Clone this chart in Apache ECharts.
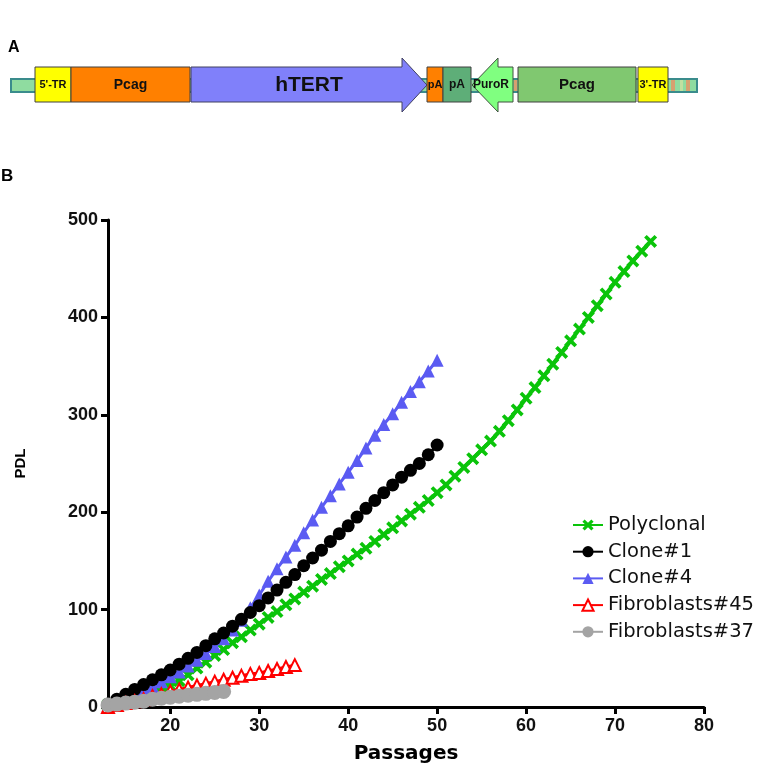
<!DOCTYPE html>
<html>
<head>
<meta charset="utf-8">
<script src="https://cdn.jsdelivr.net/npm/echarts@6/dist/echarts.min.js"></script>
<style>html,body{margin:0;padding:0;background:#fff}#c{width:759px;height:764px}</style>
</head>
<body>
<div id="c"></div>
<script>
// ---- Data ----
const seriesNames = ['Polyclonal', 'Clone#1', 'Clone#4', 'Fibroblasts#45', 'Fibroblasts#37'];
const polyPassages = [13,14,15,16,17,18,19,20,21,22,23,24,25,26,27,28,29,30,31,32,33,34,35,36,37,38,39,40,41,42,43,44,45,46,47,48,49,50,51,52,53,54,55,56,57,58,59,60,61,62,63,64,65,66,67,68,69,70,71,72,73,74];
const polyPDL = [2,4,6,9,12,15,19,22,27,33,40,46,53,59,66,72,79,85,92,98,105,111,118,124,131,137,144,150,157,163,170,177,184,191,198,205,212,220,228,237,246,255,264,273,283,294,305,317,328,340,352,364,376,388,400,412,424,436,447,458,468,478];
const clonePassages = [13,14,15,16,17,18,19,20,21,22,23,24,25,26,27,28,29,30,31,32,33,34,35,36,37,38,39,40,41,42,43,44,45,46,47,48,49,50];
const clone1PDL = [3,8,13,18,23,28,33,38,44,50,56,63,70,76,83,90,97,104,112,120,128,136,145,153,161,170,178,186,195,204,212,220,228,236,243,250,259,269];
const clone4PDL = [2,5,9,13,17,21,26,31,36,42,48,55,62,70,79,89,102,115,129,142,154,166,179,192,205,217,229,241,253,266,279,290,301,313,324,334,345,356];
const fib45Passages = [13,14,15,16,17,18,19,20,21,22,23,24,25,26,27,28,29,30,31,32,33,34];
const fib45PDL = [0,2,4,6,8,11,13,16,18,20,22,24,26,28,30,32,34,35,37,39,41,43];
const fib37Passages = [13,14,15,16,17,18,19,20,21,22,23,24,25,26];
const fib37PDL = [2,3,4,5,6,8,9,10,11,12,13,14,15,16];
const xTicks = [20,30,40,50,60,70,80];
const yTicks = [0,100,200,300,400,500];

// Construct diagram (panel A) parts
const diagramBoxes = [
  {label:"5'-TR", x0:35, x1:71, fill:'#ffff00', fs:11},
  {label:'Pcag', x0:71, x1:190, fill:'#ff8000', fs:14},
  {label:'pA', x0:427, x1:443, fill:'#ff8000', fs:11},
  {label:'pA', x0:443, x1:471, fill:'#5eae78', fs:12},
  {label:'Pcag', x0:518, x1:636, fill:'#80c870', fs:15},
  {label:"3'-TR", x0:638, x1:668, fill:'#ffff00', fs:11}
];

function zip(xs, ys){ return xs.map((x,i)=>[x, ys[i]]); }

const chart = echarts.init(document.getElementById('c'), null, {renderer:'canvas'});

const xMark = 'path://M2,0 L5,3 L8,0 L10,2 L7,5 L10,8 L8,10 L5,7 L2,10 L0,8 L3,5 L0,2 Z';

const boxTop = 67, boxBot = 102;
const graphics = [];
graphics.push({type:'text', left:8, top:40, style:{text:'A', font:'bold 16px "Liberation Sans"', fill:'#000'}});
graphics.push({type:'text', left:1, top:168, style:{text:'B', font:'bold 17px "Liberation Sans"', fill:'#000'}});
// backbone band
graphics.push({type:'rect', shape:{x:11, y:79, width:686, height:13}, style:{fill:'#8fdca0', stroke:'#3a8c8c', lineWidth:2}});
graphics.push({type:'rect', shape:{x:671, y:80, width:4, height:11}, style:{fill:'#d6a070'}});
graphics.push({type:'rect', shape:{x:680, y:80, width:3, height:11}, style:{fill:'#c0e0a0'}});
graphics.push({type:'rect', shape:{x:686, y:80, width:4, height:11}, style:{fill:'#d6a070'}});
graphics.push({type:'rect', shape:{x:514, y:80, width:3, height:11}, style:{fill:'#d6a070'}});
// hTERT arrow
graphics.push({type:'polygon', shape:{points:[[191,boxTop],[402,boxTop],[402,58],[427,85],[402,112],[402,boxBot],[191,boxBot]]}, style:{fill:'#8080fa', stroke:'#404060', lineWidth:1}});
graphics.push({type:'text', x:309, y:85, style:{text:'hTERT', font:'bold 21px "Liberation Sans"', fill:'#111', align:'center', verticalAlign:'middle'}});
// PuroR arrow (leftward)
graphics.push({type:'polygon', shape:{points:[[513,boxTop],[498,boxTop],[498,58],[472,85],[498,112],[498,boxBot],[513,boxBot]]}, style:{fill:'#80ff80', stroke:'#405040', lineWidth:1}});
diagramBoxes.forEach(b=>{
  graphics.push({type:'rect', shape:{x:b.x0, y:boxTop, width:b.x1-b.x0, height:boxBot-boxTop}, style:{fill:b.fill, stroke:'#404040', lineWidth:1}});
  graphics.push({type:'text', x:(b.x0+b.x1)/2, y:85, style:{text:b.label, font:'bold '+b.fs+'px "Liberation Sans"', fill:'#111', align:'center', verticalAlign:'middle'}});
});
graphics.push({type:'text', x:491, y:85, style:{text:'PuroR', font:'bold 12px "Liberation Sans"', fill:'#111', align:'center', verticalAlign:'middle'}});

const option = {
  backgroundColor:'#fff',
  animation:false,
  graphic: graphics,
  grid:{left:108, right:55, top:220, bottom:57, outerBoundsMode:'none', containLabel:false},
  legend:{
    data: seriesNames,
    orient:'vertical', left:567, top:510,
    itemWidth:30, itemHeight:14, itemGap:6.7,
    textStyle:{fontFamily:'DejaVu Sans', fontSize:19.5, color:'#111', lineHeight:20}
  },
  xAxis:{
    type:'value', min:13, max:80,
    name:'Passages', nameLocation:'middle', nameGap:37,
    nameTextStyle:{fontFamily:'DejaVu Sans', fontWeight:'bold', fontSize:20, color:'#000'},
    axisLine:{show:true, lineStyle:{color:'#000', width:3}},
    axisTick:{show:true, length:7, lineStyle:{color:'#000', width:3}, customValues:xTicks},
    axisLabel:{customValues:xTicks, fontFamily:'Liberation Sans', fontWeight:'bold', fontSize:18, color:'#111', margin:10},
    splitLine:{show:false}
  },
  yAxis:{
    type:'value', min:0, max:500, interval:100,
    name:'PDL', nameLocation:'middle', nameGap:80,
    nameTextStyle:{fontFamily:'Liberation Sans', fontWeight:'bold', fontSize:15, color:'#000'},
    axisLine:{show:true, lineStyle:{color:'#000', width:3}},
    axisTick:{show:true, length:7, lineStyle:{color:'#000', width:3}},
    axisLabel:{fontFamily:'Liberation Sans', fontWeight:'bold', fontSize:18, color:'#111', margin:10},
    splitLine:{show:false}
  },
  series:[
    {name:'Polyclonal', type:'line', data:zip(polyPassages, polyPDL), symbol:xMark, symbolSize:13,
     itemStyle:{color:'#0ac40a'}, lineStyle:{color:'#0ac40a', width:4}, z:2},
    {name:'Clone#4', type:'line', data:zip(clonePassages, clone4PDL), symbol:'triangle', symbolSize:13,
     itemStyle:{color:'#5b5bf2'}, lineStyle:{color:'#5b5bf2', width:3}, z:3},
    {name:'Clone#1', type:'line', data:zip(clonePassages, clone1PDL), symbol:'circle', symbolSize:13,
     itemStyle:{color:'#000'}, lineStyle:{color:'#000', width:3}, z:4},
    {name:'Fibroblasts#45', type:'line', data:zip(fib45Passages, fib45PDL), symbol:'emptyTriangle', symbolSize:12,
     itemStyle:{color:'#ff0000', borderWidth:2.5}, lineStyle:{color:'#ff0000', width:3}, z:5},
    {name:'Fibroblasts#37', type:'line', data:zip(fib37Passages, fib37PDL), symbol:'circle', symbolSize:15,
     itemStyle:{color:'#a4a4a4'}, lineStyle:{color:'#a4a4a4', width:4}, z:6}
  ]
};
chart.setOption(option);
</script>
</body>
</html>
